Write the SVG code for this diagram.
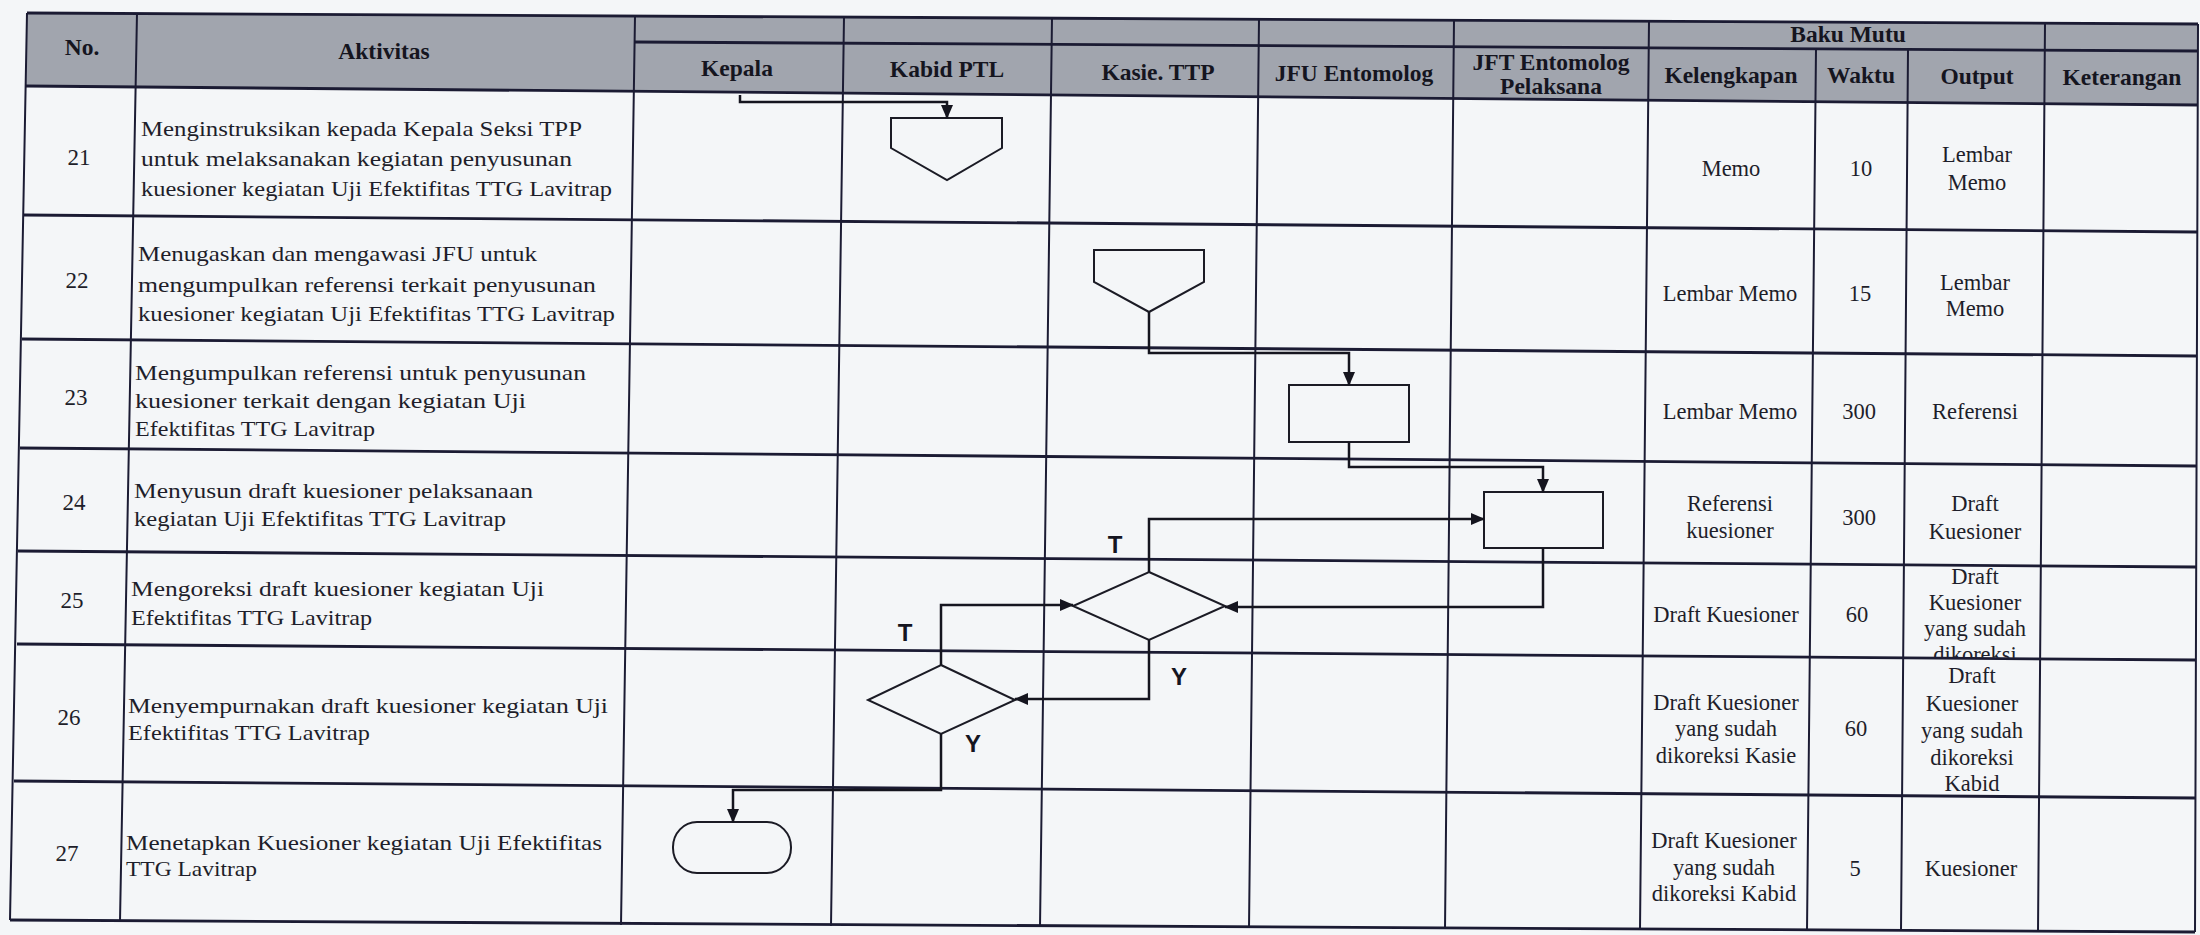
<svg xmlns="http://www.w3.org/2000/svg" width="2200" height="935" viewBox="0 0 2200 935">
<style>
.bg{fill:#f4f6f8}
.hdr{fill:#a1a5ae}
.hl{stroke:#1b1b33;stroke-width:2.8;fill:none}
.vl{stroke:#1b1b33;stroke-width:2;fill:none}
.ht{font-family:"Liberation Serif","Times New Roman",serif;font-weight:bold;font-size:23.5px;fill:#15151f;text-anchor:middle;dominant-baseline:central}
.bt{font-family:"Liberation Serif","Times New Roman",serif;font-size:22px;fill:#1e1e2a;dominant-baseline:central}
.ct{font-family:"Liberation Serif","Times New Roman",serif;font-size:22.5px;fill:#1e1e2a;text-anchor:middle;dominant-baseline:central}
.nt{font-family:"Liberation Serif","Times New Roman",serif;font-size:23px;fill:#1e1e2a;text-anchor:middle;dominant-baseline:central}
.shape{fill:none;stroke:#1b1b25;stroke-width:2}
.conn{fill:none;stroke:#15151f;stroke-width:2.5}
.lbl{font-family:"Liberation Sans",Arial,sans-serif;font-weight:bold;font-size:24px;fill:#15151f;text-anchor:middle;dominant-baseline:central}
</style>
<defs>
<marker id="arr" markerUnits="userSpaceOnUse" markerWidth="14" markerHeight="12" refX="13" refY="6" orient="auto">
<path d="M0,0 L14,6 L0,12 z" fill="#15151f"/>
</marker>
<clipPath id="clip25"><polygon points="1905,566 2042,567 2042,658 1905,657"/></clipPath>
</defs>
<rect class="bg" x="0" y="0" width="2200" height="935"/>
<g id="table">
<polygon class="hdr" points="27,13 2198,24 2198,105 26,86"/>
<path class="hl" d="M27,13 L2198,24 M26,86 L2198,105 M635,42 L2198,51 M24,215 L2197,232 M22,339 L2197,356 M20,448 L2196,466 M18,551 L2196,567 M17,644 L2196,660 M14,781 L2195,798 M10,920 L2195,932"/>
<path class="vl" d="M27,13 L10,920 M137,13 L120,921 M635,16 L621,925 M844,17 L831,926 M1052,18 L1040,927 M1259,19 L1249,928 M1454,20 L1445,929 M1649,21 L1640,930 M1816,49 L1807,931 M1908,50 L1901,931 M2045,23 L2038,932 M2198,24 L2195,932"/>
<g id="header">
<text class="ht" x="82" y="47">No.</text>
<text class="ht" x="384" y="51">Aktivitas</text>
<text class="ht" x="737" y="68">Kepala</text>
<text class="ht" x="947" y="69">Kabid PTL</text>
<text class="ht" x="1158" y="72">Kasie. TTP</text>
<text class="ht" x="1354" y="73">JFU Entomolog</text>
<text class="ht" x="1551" y="62">JFT Entomolog</text>
<text class="ht" x="1551" y="86">Pelaksana</text>
<text class="ht" x="1848" y="34">Baku Mutu</text>
<text class="ht" x="1731" y="75">Kelengkapan</text>
<text class="ht" x="1861" y="75">Waktu</text>
<text class="ht" x="1977" y="76">Output</text>
<text class="ht" x="2122" y="77">Keterangan</text>
</g>
<g id="numbers">
<text class="nt" x="79" y="157">21</text>
<text class="nt" x="77" y="280">22</text>
<text class="nt" x="76" y="397">23</text>
<text class="nt" x="74" y="502">24</text>
<text class="nt" x="72" y="600">25</text>
<text class="nt" x="69" y="717">26</text>
<text class="nt" x="67" y="853">27</text>
</g>
<g id="aktivitas" xml:space="preserve">
<text class="bt" x="141" y="128" textLength="441" lengthAdjust="spacingAndGlyphs">Menginstruksikan kepada Kepala Seksi TPP</text>
<text class="bt" x="141" y="158" textLength="431" lengthAdjust="spacingAndGlyphs">untuk melaksanakan kegiatan penyusunan</text>
<text class="bt" x="141" y="188" textLength="471" lengthAdjust="spacingAndGlyphs">kuesioner kegiatan Uji Efektifitas TTG Lavitrap</text>
<text class="bt" x="138" y="253" textLength="399" lengthAdjust="spacingAndGlyphs">Menugaskan dan mengawasi JFU untuk</text>
<text class="bt" x="138" y="284" textLength="458" lengthAdjust="spacingAndGlyphs">mengumpulkan referensi terkait penyusunan</text>
<text class="bt" x="138" y="313" textLength="477" lengthAdjust="spacingAndGlyphs">kuesioner kegiatan  Uji Efektifitas TTG Lavitrap</text>
<text class="bt" x="135" y="372" textLength="451" lengthAdjust="spacingAndGlyphs">Mengumpulkan referensi untuk penyusunan</text>
<text class="bt" x="135" y="400" textLength="391" lengthAdjust="spacingAndGlyphs">kuesioner  terkait dengan kegiatan  Uji</text>
<text class="bt" x="135" y="428" textLength="240" lengthAdjust="spacingAndGlyphs">Efektifitas TTG Lavitrap</text>
<text class="bt" x="134" y="490" textLength="399" lengthAdjust="spacingAndGlyphs">Menyusun draft kuesioner pelaksanaan</text>
<text class="bt" x="134" y="518" textLength="372" lengthAdjust="spacingAndGlyphs">kegiatan  Uji Efektifitas TTG Lavitrap</text>
<text class="bt" x="131" y="588" textLength="413" lengthAdjust="spacingAndGlyphs">Mengoreksi draft kuesioner kegiatan  Uji</text>
<text class="bt" x="131" y="617" textLength="241" lengthAdjust="spacingAndGlyphs">Efektifitas TTG Lavitrap</text>
<text class="bt" x="128" y="705" textLength="480" lengthAdjust="spacingAndGlyphs">Menyempurnakan draft kuesioner kegiatan  Uji</text>
<text class="bt" x="128" y="732" textLength="242" lengthAdjust="spacingAndGlyphs">Efektifitas TTG Lavitrap</text>
<text class="bt" x="126" y="842" textLength="476" lengthAdjust="spacingAndGlyphs">Menetapkan Kuesioner kegiatan  Uji Efektifitas</text>
<text class="bt" x="126" y="868" textLength="131" lengthAdjust="spacingAndGlyphs">TTG Lavitrap</text>
</g>
<g id="bakumutu">
<text class="ct" x="1731" y="168">Memo</text>
<text class="ct" x="1861" y="168">10</text>
<text class="ct" x="1977" y="154">Lembar</text>
<text class="ct" x="1977" y="182">Memo</text>
<text class="ct" x="1730" y="293">Lembar Memo</text>
<text class="ct" x="1860" y="293">15</text>
<text class="ct" x="1975" y="282">Lembar</text>
<text class="ct" x="1975" y="308">Memo</text>
<text class="ct" x="1730" y="411">Lembar Memo</text>
<text class="ct" x="1859" y="411">300</text>
<text class="ct" x="1975" y="411">Referensi</text>
<text class="ct" x="1730" y="503">Referensi</text>
<text class="ct" x="1730" y="530">kuesioner</text>
<text class="ct" x="1859" y="517">300</text>
<text class="ct" x="1975" y="503">Draft</text>
<text class="ct" x="1975" y="531">Kuesioner</text>
<text class="ct" x="1726" y="614">Draft Kuesioner</text>
<text class="ct" x="1857" y="614">60</text>
<g clip-path="url(#clip25)">
<text class="ct" x="1975" y="576">Draft</text>
<text class="ct" x="1975" y="602">Kuesioner</text>
<text class="ct" x="1975" y="628">yang sudah</text>
<text class="ct" x="1975" y="654">dikoreksi</text>
</g>
<text class="ct" x="1726" y="702">Draft Kuesioner</text>
<text class="ct" x="1726" y="728">yang sudah</text>
<text class="ct" x="1726" y="755">dikoreksi Kasie</text>
<text class="ct" x="1856" y="728">60</text>
<text class="ct" x="1972" y="675">Draft</text>
<text class="ct" x="1972" y="703">Kuesioner</text>
<text class="ct" x="1972" y="730">yang sudah</text>
<text class="ct" x="1972" y="757">dikoreksi</text>
<text class="ct" x="1972" y="783">Kabid</text>
<text class="ct" x="1724" y="840">Draft Kuesioner</text>
<text class="ct" x="1724" y="867">yang sudah</text>
<text class="ct" x="1724" y="893">dikoreksi Kabid</text>
<text class="ct" x="1855" y="868">5</text>
<text class="ct" x="1971" y="868">Kuesioner</text>
</g>
</g>
<g id="node-21"><polygon class="shape" points="891,118 1002,118 1002,148 947,180 891,148"/></g>
<g id="node-22"><polygon class="shape" points="1094,250 1204,250 1204,282 1149,312 1094,282"/></g>
<g id="node-23"><rect class="shape" x="1289" y="385" width="120" height="57"/></g>
<g id="node-24"><rect class="shape" x="1484" y="492" width="119" height="56"/></g>
<g id="node-25"><polygon class="shape" points="1149,572 1225,606 1149,640 1073,606"/></g>
<g id="node-26"><polygon class="shape" points="941,665 1015,700 941,734 868,700"/></g>
<g id="node-27"><rect class="shape" x="673" y="822" width="118" height="51" rx="24" ry="25"/></g>
<g id="connectors">
<polyline class="conn" points="740,95 740,102 947,102 947,118" marker-end="url(#arr)"/>
<polyline class="conn" points="1149,312 1149,353 1349,353 1349,385" marker-end="url(#arr)"/>
<polyline class="conn" points="1349,442 1349,467 1543,467 1543,492" marker-end="url(#arr)"/>
<polyline class="conn" points="1543,548 1543,607 1225,607" marker-end="url(#arr)"/>
<polyline class="conn" points="1149,572 1149,519 1484,519" marker-end="url(#arr)"/>
<polyline class="conn" points="941,665 941,605 1073,605" marker-end="url(#arr)"/>
<polyline class="conn" points="1149,640 1149,699 1015,699" marker-end="url(#arr)"/>
<polyline class="conn" points="941,734 941,790 733,790 733,822" marker-end="url(#arr)"/>
<text class="lbl" x="1115" y="544">T</text>
<text class="lbl" x="905" y="632">T</text>
<text class="lbl" x="1179" y="676">Y</text>
<text class="lbl" x="973" y="743">Y</text>
</g>
</svg>
